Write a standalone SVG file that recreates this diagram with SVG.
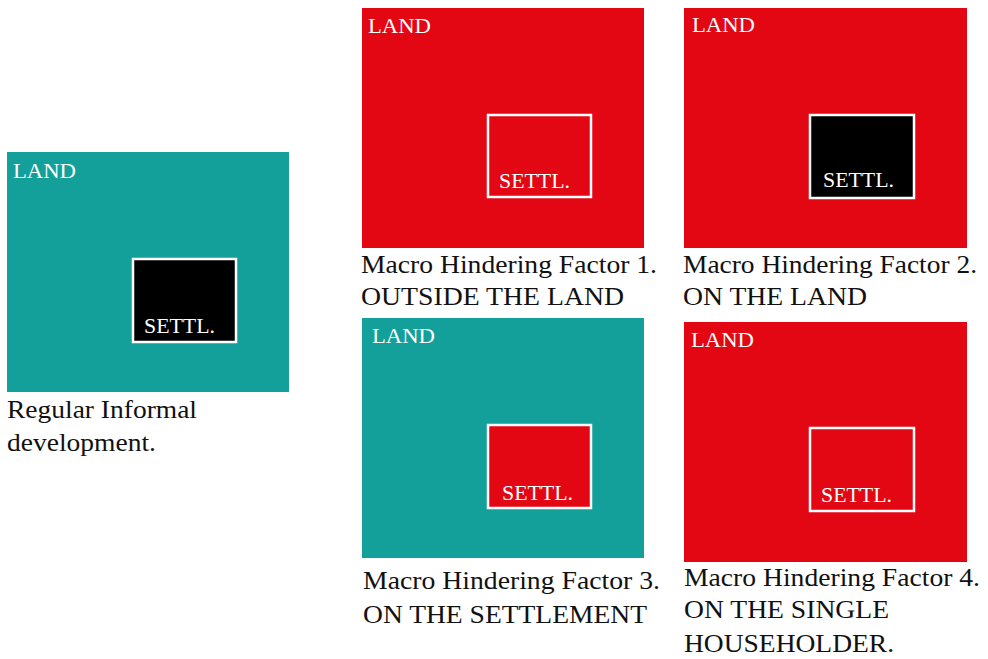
<svg xmlns="http://www.w3.org/2000/svg" width="988" height="659" viewBox="0 0 988 659">
<style>
.teal{fill:#13A09A}
.red{fill:#E30613}
.blk{fill:#000}
.inner{stroke:#fff;stroke-width:2.5}
.lbl{font-family:"Liberation Serif","Times New Roman",serif;font-size:21px;fill:#fff}
.cap{font-family:"Liberation Serif","Times New Roman",serif;font-size:25px;fill:#111}
</style>
<rect width="988" height="659" fill="#fff"/>
<g id="regular">
<rect class="teal" x="7" y="152" width="282" height="240"/>
<rect class="blk inner" x="133" y="259" width="103" height="83"/>
<text class="lbl" x="13" y="178" textLength="63" lengthAdjust="spacingAndGlyphs">LAND</text>
<text class="lbl" x="144" y="333" textLength="71" lengthAdjust="spacingAndGlyphs">SETTL.</text>
<text class="cap" x="7" y="418" textLength="190" lengthAdjust="spacingAndGlyphs">Regular Informal</text>
<text class="cap" x="7" y="451" textLength="149" lengthAdjust="spacingAndGlyphs">development.</text>
</g>
<g id="factor1">
<rect class="red" x="362" y="8" width="282" height="240"/>
<rect class="red inner" x="488" y="115" width="103" height="82"/>
<text class="lbl" x="368" y="33" textLength="63" lengthAdjust="spacingAndGlyphs">LAND</text>
<text class="lbl" x="499" y="188" textLength="71" lengthAdjust="spacingAndGlyphs">SETTL.</text>
<text class="cap" x="361" y="273" textLength="296" lengthAdjust="spacingAndGlyphs">Macro Hindering Factor 1.</text>
<text class="cap" x="361" y="305" textLength="263" lengthAdjust="spacingAndGlyphs">OUTSIDE THE LAND</text>
</g>
<g id="factor2">
<rect class="red" x="684" y="8" width="283" height="240"/>
<rect class="blk inner" x="810" y="115" width="104" height="83"/>
<text class="lbl" x="692" y="32" textLength="63" lengthAdjust="spacingAndGlyphs">LAND</text>
<text class="lbl" x="823" y="187" textLength="71" lengthAdjust="spacingAndGlyphs">SETTL.</text>
<text class="cap" x="683" y="273" textLength="294" lengthAdjust="spacingAndGlyphs">Macro Hindering Factor 2.</text>
<text class="cap" x="683" y="305" textLength="184" lengthAdjust="spacingAndGlyphs">ON THE LAND</text>
</g>
<g id="factor3">
<rect class="teal" x="362" y="318" width="282" height="240"/>
<rect class="red inner" x="488" y="425" width="103" height="83"/>
<text class="lbl" x="372" y="343" textLength="63" lengthAdjust="spacingAndGlyphs">LAND</text>
<text class="lbl" x="502" y="500" textLength="71" lengthAdjust="spacingAndGlyphs">SETTL.</text>
<text class="cap" x="363" y="589" textLength="297" lengthAdjust="spacingAndGlyphs">Macro Hindering Factor 3.</text>
<text class="cap" x="363" y="623" textLength="284" lengthAdjust="spacingAndGlyphs">ON THE SETTLEMENT</text>
</g>
<g id="factor4">
<rect class="red" x="684" y="322" width="283" height="240"/>
<rect class="red inner" x="810" y="428" width="104" height="83"/>
<text class="lbl" x="691" y="347" textLength="63" lengthAdjust="spacingAndGlyphs">LAND</text>
<text class="lbl" x="821" y="502" textLength="71" lengthAdjust="spacingAndGlyphs">SETTL.</text>
<text class="cap" x="684" y="586" textLength="296" lengthAdjust="spacingAndGlyphs">Macro Hindering Factor 4.</text>
<text class="cap" x="684" y="618" textLength="205" lengthAdjust="spacingAndGlyphs">ON THE SINGLE</text>
<text class="cap" x="684" y="652" textLength="210" lengthAdjust="spacingAndGlyphs">HOUSEHOLDER.</text>
</g>
<g id="connectors"></g>
</svg>
